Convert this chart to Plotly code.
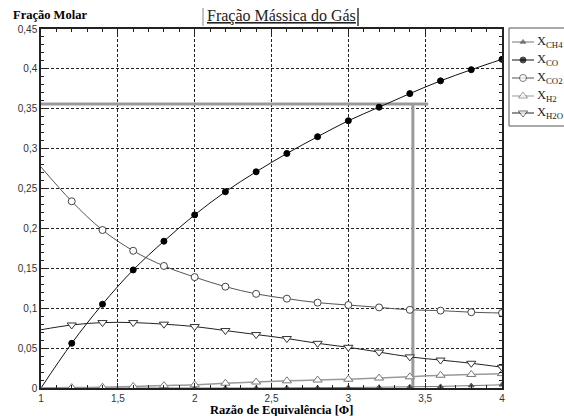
import plotly.graph_objects as go

phi = [1.0, 1.2, 1.4, 1.6, 1.8, 2.0, 2.2, 2.4, 2.6, 2.8, 3.0, 3.2, 3.4, 3.6, 3.8, 4.0]
x_ch4 = [0, 0, 0, 0, 0, 0, 0, 0, 0.0002, 0.0004, 0.0006, 0.001, 0.0015, 0.002, 0.003, 0.004]
x_co = [0.0, 0.056, 0.105, 0.148, 0.184, 0.217, 0.246, 0.271, 0.294, 0.315, 0.335, 0.352, 0.369, 0.385, 0.399, 0.412]
x_co2 = [0.277, 0.234, 0.198, 0.172, 0.153, 0.139, 0.127, 0.118, 0.112, 0.107, 0.104, 0.101, 0.098, 0.097, 0.095, 0.094]
x_h2 = [0.0, 0.0005, 0.001, 0.002, 0.003, 0.004, 0.006, 0.0075, 0.009, 0.010, 0.011, 0.0125, 0.014, 0.016, 0.017, 0.018]
x_h2o = [0.073, 0.079, 0.082, 0.082, 0.080, 0.077, 0.072, 0.067, 0.062, 0.056, 0.051, 0.045, 0.039, 0.035, 0.031, 0.026]

series_names = ["X<sub>CH4</sub>", "X<sub>CO</sub>", "X<sub>CO2</sub>", "X<sub>H2</sub>", "X<sub>H2O</sub>"]

phi_ref = 3.42
frac_ref = 0.356
phi_ref_end = 3.52

x_tickvals = [1, 1.5, 2, 2.5, 3, 3.5, 4]
x_ticktext = ["1", "1,5", "2", "2,5", "3", "3,5", "4"]
y_tickvals = [0, 0.05, 0.1, 0.15, 0.2, 0.25, 0.3, 0.35, 0.4, 0.45]
y_ticktext = ["0", "0,05", "0,1", "0,15", "0,2", "0,25", "0,3", "0,35", "0,4", "0,45"]

styles = [
    dict(line=dict(color="#777777", width=1),
         marker=dict(symbol="triangle-up", size=5, color="#555555", line=dict(color="#555555", width=1))),
    dict(line=dict(color="#111111", width=1),
         marker=dict(symbol="circle", size=6, color="black", line=dict(color="black", width=1))),
    dict(line=dict(color="#555555", width=1),
         marker=dict(symbol="circle", size=7, color="white", line=dict(color="#444444", width=1))),
    dict(line=dict(color="#999999", width=1.5),
         marker=dict(symbol="triangle-up", size=8, color="white", line=dict(color="#777777", width=1))),
    dict(line=dict(color="#222222", width=1),
         marker=dict(symbol="triangle-down", size=8, color="white", line=dict(color="#333333", width=1))),
]
values = [x_ch4, x_co, x_co2, x_h2, x_h2o]

W, H = 564, 416
PL, PR, PT, PB = 41, 502, 29, 388  # plot area in pixels

def px(p):
    return p / W

def py(p):
    return 1 - p / H

fig = go.Figure()

# reference gray lines
fig.add_trace(go.Scatter(x=[1, phi_ref_end], y=[frac_ref, frac_ref], mode="lines",
                         line=dict(color="#9a9a9a", width=3), showlegend=False, hoverinfo="skip"))
fig.add_trace(go.Scatter(x=[phi_ref, phi_ref], y=[0, frac_ref], mode="lines",
                         line=dict(color="#9a9a9a", width=3), showlegend=False, hoverinfo="skip"))

for name, vals, st in zip(series_names, values, styles):
    fig.add_trace(go.Scatter(x=phi, y=vals, mode="lines", name=name,
                             line=dict(st["line"], shape="spline"), showlegend=False, hoverinfo="skip"))
for name, vals, st in zip(series_names, values, styles):
    fig.add_trace(go.Scatter(x=phi[1:], y=vals[1:], mode="markers", name=name,
                             marker=st["marker"], showlegend=False))

# custom compact legend (layout in pixels)
leg_left, leg_top, leg_bottom = 509, 28, 126
leg_rows = [42, 60, 78, 96, 113]
leg_line_x0, leg_line_x1, leg_text_x = 512, 534, 535
shapes = [
    dict(type="rect", xref="paper", yref="paper", x0=px(leg_left), x1=px(W + 5), y0=py(leg_bottom), y1=py(leg_top),
         line=dict(color="#555555", width=1), fillcolor="white", layer="below"),
    dict(type="line", xref="paper", yref="paper", x0=px(203), x1=px(203), y0=py(8), y1=py(26),
         line=dict(color="#888888", width=1)),
    dict(type="line", xref="paper", yref="paper", x0=px(358), x1=px(358), y0=py(8), y1=py(26),
         line=dict(color="#333333", width=1.5)),
]
annotations = []
for name, st, ry in zip(series_names, styles, leg_rows):
    fig.add_trace(go.Scatter(x=[leg_line_x0, leg_line_x1], y=[ry, ry], xaxis="x2", yaxis="y2",
                             mode="lines", line=dict(color=st["line"]["color"], width=1),
                             showlegend=False, hoverinfo="skip"))
    annotations.append(dict(text=name, x=px(leg_text_x), y=py(ry), xref="paper", yref="paper",
                            showarrow=False, xanchor="left", yanchor="middle",
                            font=dict(family="Liberation Serif, Times New Roman", size=12.5, color="#222222")))
fig.add_trace(go.Scatter(x=[(leg_line_x0 + leg_line_x1) / 2] * len(leg_rows), y=leg_rows,
                         xaxis="x2", yaxis="y2", mode="markers", cliponaxis=False, showlegend=False,
                         hoverinfo="skip",
                         marker=dict(symbol=[s["marker"]["symbol"] for s in styles],
                                     size=[s["marker"]["size"] for s in styles],
                                     color=[s["marker"]["color"] for s in styles],
                                     line=dict(color=[s["marker"]["line"]["color"] for s in styles], width=1))))

grid = dict(showgrid=True, gridcolor="#222222", gridwidth=1, griddash="3px,2px")
xaxis = dict(domain=[px(PL), px(PR)], range=[1, 4], tickvals=x_tickvals, ticktext=x_ticktext,
             showline=True, linecolor="#222222", linewidth=1.5, mirror="ticks",
             ticks="inside", ticklen=5, tickcolor="#222222",
             minor=dict(dtick=0.1, tick0=1, ticks="inside", ticklen=3, tickcolor="#222222", showgrid=False),
             tickfont=dict(family="Liberation Sans, Arial", size=10, color="#333333"),
             zeroline=False, automargin=False, **grid)
yaxis = dict(domain=[py(PB), py(PT)], range=[0, 0.45], tickvals=y_tickvals, ticktext=y_ticktext,
             showline=True, linecolor="#222222", linewidth=1.5, mirror="ticks",
             ticks="inside", ticklen=5, tickcolor="#222222",
             minor=dict(dtick=0.01, tick0=0, ticks="inside", ticklen=3, tickcolor="#222222", showgrid=False),
             tickfont=dict(family="Liberation Sans, Arial", size=10, color="#333333"),
             zeroline=False, automargin=False, **grid)

annotations += [
    dict(text="<u>Fração Mássica do Gás</u>", x=px(281), y=py(16), xref="paper", yref="paper",
         showarrow=False, xanchor="center", yanchor="middle",
         font=dict(family="Liberation Serif, Times New Roman", size=16, color="#222222")),
    dict(text="<b>Fração Molar</b>", x=px(11), y=py(15), xref="paper", yref="paper",
         showarrow=False, xanchor="left", yanchor="middle",
         font=dict(family="Liberation Serif, Times New Roman", size=12.5, color="black")),
    dict(text="<b>Razão de Equivalência [Φ]</b>", x=px(281), y=py(410), xref="paper", yref="paper",
         showarrow=False, xanchor="center", yanchor="middle",
         font=dict(family="Liberation Serif, Times New Roman", size=12.5, color="black")),
]

fig.update_layout(
    width=W, height=H,
    margin=dict(l=0, r=0, t=0, b=0, autoexpand=False),
    plot_bgcolor="white", paper_bgcolor="white",
    showlegend=False,
    xaxis=xaxis, yaxis=yaxis,
    xaxis2=dict(domain=[px(leg_left), 1], range=[leg_left, W], visible=False, showgrid=False),
    yaxis2=dict(domain=[py(H), py(0)], range=[H, 0], visible=False, showgrid=False),
    annotations=annotations,
    shapes=shapes,
)

fig.write_html("out.html", post_script="document.body.style.margin='0px';",
               config={"displayModeBar": False})
